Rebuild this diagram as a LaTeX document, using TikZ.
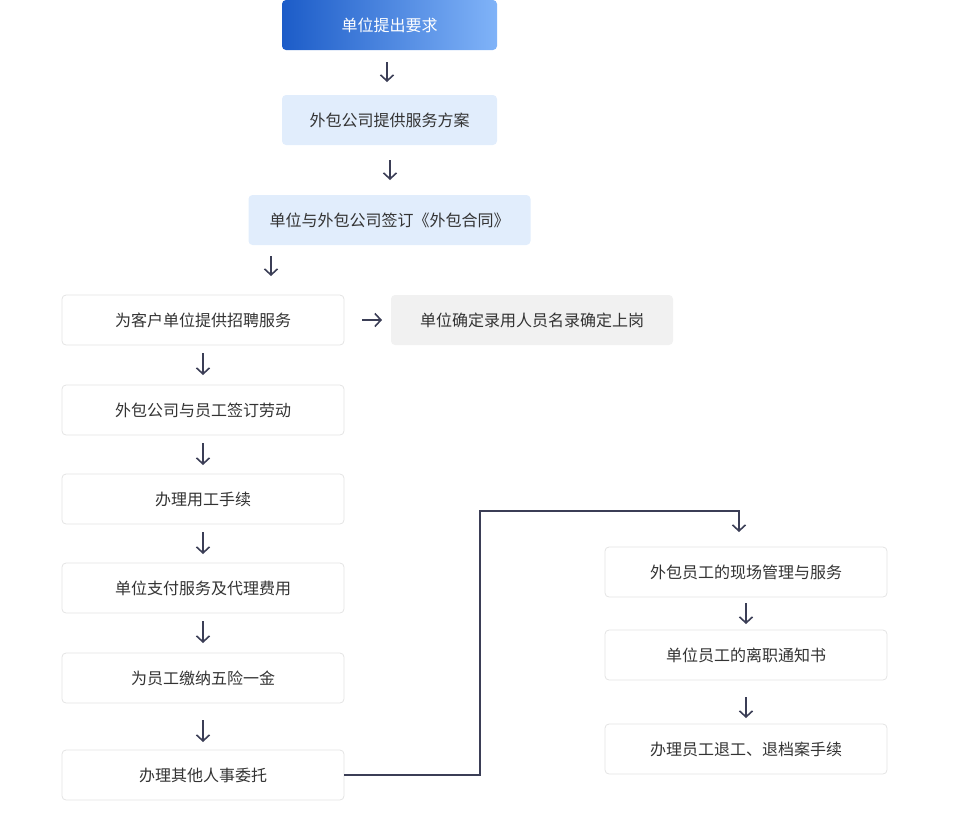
\documentclass[tikz,border=0pt]{standalone}
\usepackage{fontspec}
\setmainfont{Noto Sans CJK SC}
\usetikzlibrary{positioning,arrows.meta}

\definecolor{linecol}{HTML}{3B3E56}
\definecolor{txtcol}{HTML}{333333}
\definecolor{paleblue}{HTML}{E1EDFC}
\definecolor{palegray}{HTML}{F1F1F1}
\definecolor{edgegray}{HTML}{E4E4E4}
\definecolor{deepblue}{HTML}{1C5CC8}
\definecolor{skyblue}{HTML}{80B3F8}

\tikzset{
  box/.style = {rectangle, rounded corners=4pt, inner sep=0pt, outer sep=0pt, minimum height=50pt,
                text=txtcol, font=\fontsize{16}{19}\selectfont},
  narrow/.style = {box, minimum width=215pt},
  wide/.style = {box, minimum width=282pt},
  headbox/.style = {narrow, left color=deepblue, right color=skyblue, text=white},
  bluebox/.style = {fill=paleblue},
  graybox/.style = {fill=palegray},
  plainbox/.style = {fill=white, draw=edgegray, line width=0.8pt},
  arr/.style = {draw=linecol, line width=1.6pt, -{Straight Barb[length=6pt,width=13pt]}},
  link/.style = {draw=linecol, line width=1.6pt}
}

\begin{document}
\begin{tikzpicture}[x=1pt, y=-1pt]
\useasboundingbox (0,0) rectangle (972,823);

\node [headbox] (need) at (389.5,25) {单位提出要求};
\node [narrow, bluebox, below = 45pt of need] (plan) {外包公司提供服务方案};
\node [wide, bluebox, below = 50pt of plan] (contract) {单位与外包公司签订《外包合同》};
\node [wide, plainbox] (recruit) at (203,320) {为客户单位提供招聘服务};
\node [wide, graybox, right = 47pt of recruit] (confirm) {单位确定录用人员名录确定上岗};
\node [wide, plainbox, below = 40pt of recruit] (labour) {外包公司与员工签订劳动};
\node [wide, plainbox, below = 39pt of labour] (hire) {办理用工手续};
\node [wide, plainbox, below = 39pt of hire] (fees) {单位支付服务及代理费用};
\node [wide, plainbox, below = 40pt of fees] (insure) {为员工缴纳五险一金};
\node [wide, plainbox, below = 47pt of insure] (other) {办理其他人事委托};

\node [wide, plainbox] (onsite) at (746,572) {外包员工的现场管理与服务};
\node [wide, plainbox, below = 33pt of onsite] (notice) {单位员工的离职通知书};
\node [wide, plainbox, below = 44pt of notice] (exit) {办理员工退工、退档案手续};

\coordinate (k1) at (271,0);
\coordinate (k2) at (480,0);
\coordinate (k3) at (739,0);

% top chain
\draw [arr, shorten <=12pt, shorten >=13pt] (need.south -| 387,0) -- (plan.north -| 387,0);
\draw [arr, shorten <=15pt, shorten >=15pt] (plan.south -| 390,0) -- (contract.north -| 390,0);
\draw [arr, shorten <=11pt, shorten >=19pt] (contract.south -| k1) -- (recruit.north -| k1);
\draw [arr, shorten <=18pt, shorten >=9pt] (recruit) -- (confirm);

% left column
\draw [arr, shorten <=8pt, shorten >=10pt] (recruit) -- (labour);
\draw [arr, shorten <=8pt, shorten >=9pt] (labour) -- (hire);
\draw [arr, shorten <=8pt, shorten >=9pt] (hire) -- (fees);
\draw [arr, shorten <=8pt, shorten >=10pt] (fees) -- (insure);
\draw [arr, shorten <=17pt, shorten >=8pt] (insure) -- (other);

% to right column
\draw [link] (other.east) -- (other.east -| k2) -- (k2 |- 0,511) -- (k3 |- 0,511);
\draw [arr, shorten >=15pt] (k3 |- 0,510.2) -- (onsite.north -| k3);
\draw [arr, shorten <=6pt, shorten >=6pt] (onsite) -- (notice);
\draw [arr, shorten <=17pt, shorten >=6pt] (notice) -- (exit);
\end{tikzpicture}
\end{document}
